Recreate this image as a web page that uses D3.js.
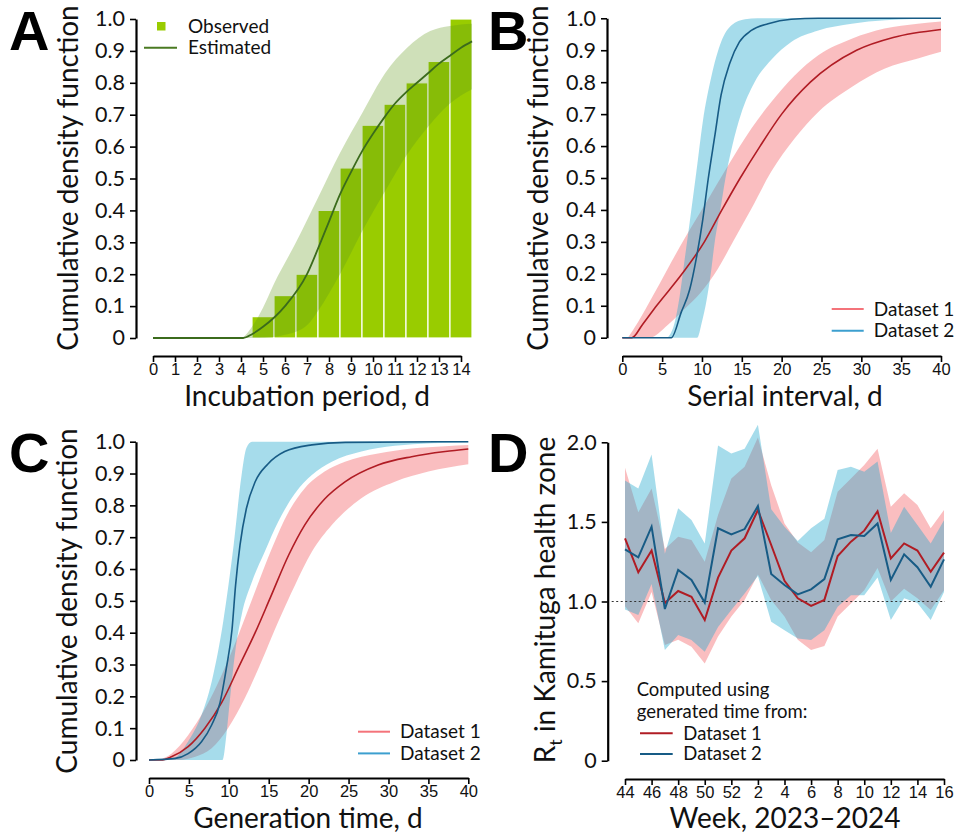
<!DOCTYPE html>
<html><head><meta charset="utf-8">
<script src="https://cdn.jsdelivr.net/npm/d3@7"></script>
<style>body{margin:0;background:#fff}svg{display:block}</style>
</head><body>
<svg id="chart" width="960" height="835"></svg>
<script>
// ---------- Panel A: incubation period ----------
const incDays = [5, 6, 7, 8, 9, 10, 11, 12, 13, 14];
const incObserved = [0.067, 0.133, 0.2, 0.4, 0.533, 0.667, 0.733, 0.8, 0.867, 1.0];
const incEstimated = [[0,0],[4.1,0],[4.5,0.012],[5,0.035],[6,0.1],[7,0.2],[7.5,0.28],[8,0.365],[8.5,0.45],[9,0.52],[9.5,0.585],[10,0.64],[10.5,0.69],[11,0.735],[11.5,0.77],[12,0.8],[12.5,0.83],[13,0.86],[13.5,0.885],[14,0.91],[14.5,0.93]];
const incUpper = [[4.1,0],[4.5,0.035],[5,0.095],[5.5,0.17],[6.5,0.3],[7.5,0.44],[8.5,0.58],[9.55,0.71],[10.55,0.83],[11.55,0.91],[12.6,0.962],[13.5,0.978],[14.5,0.985]];
const incLower = [[4.1,0],[4.8,0],[6,0.01],[7,0.04],[7.5,0.085],[8.5,0.2],[9.55,0.34],[10.55,0.46],[11.55,0.575],[12.6,0.67],[13.5,0.735],[14.5,0.78]];
const incXTicks = d3.range(0, 15);

// ---------- Panel B: serial interval ----------
const serialD1Line = [[0,0],[1.2,0],[2.5,0.04],[4.3,0.1],[7.5,0.2],[10.3,0.3],[12.5,0.4],[14.8,0.5],[17.3,0.6],[20,0.7],[23.6,0.8],[29.4,0.9],[34,0.94],[40,0.965]];
const serialD1Upper = [[0.7,0],[2,0.05],[3.6,0.12],[5.7,0.216],[7.8,0.31],[10.3,0.414],[13.3,0.54],[16.2,0.655],[18.7,0.738],[21.6,0.82],[24.6,0.884],[28.8,0.936],[32.9,0.968],[37.1,0.983],[40,0.99]];
const serialD1Lower = [[0.7,0],[3.4,0],[5.7,0.04],[7.8,0.09],[9.9,0.143],[12,0.216],[14.1,0.31],[16.2,0.404],[18.7,0.52],[21.6,0.623],[24.6,0.707],[28.8,0.785],[32.9,0.842],[37.1,0.874],[40,0.895]];
const serialD2Line = [[0,0],[6.15,0],[7.4,0.08],[8.45,0.15],[9.3,0.25],[10.1,0.37],[10.8,0.5],[11.6,0.63],[12.4,0.76],[13.5,0.86],[14.7,0.926],[16.2,0.962],[18.3,0.983],[21.2,0.997],[24.6,1],[40,1]];
const serialD2Upper = [[5.7,0],[6.6,0.05],[7.2,0.13],[7.8,0.24],[8.45,0.36],[9.3,0.52],[10.1,0.675],[11.2,0.82],[12.4,0.926],[13.7,0.978],[15.4,0.997],[17,1],[40,1]];
const serialD2Lower = [[5.7,0],[9.4,0],[10,0.05],[10.6,0.12],[11.1,0.2],[11.6,0.3],[12.3,0.4],[12.95,0.5],[13.8,0.6],[14.9,0.7],[16.6,0.8],[18.7,0.87],[21.2,0.926],[24.6,0.962],[28.8,0.983],[33,0.994],[40,0.999]];

// ---------- Panel C: generation time ----------
const genD1Line = [[0,0],[1.5,0],[2.8,0.01],[4.9,0.042],[7,0.1],[9.1,0.18],[11.2,0.29],[13.3,0.4],[15.2,0.51],[17.5,0.644],[19.5,0.738],[22,0.82],[24.55,0.874],[28.7,0.927],[32.9,0.953],[37.1,0.969],[40,0.977]];
const genD1Upper = [[1.2,0],[2.8,0.02],[4.9,0.078],[7,0.16],[9.1,0.267],[11.2,0.393],[13.3,0.53],[15.4,0.665],[17.5,0.78],[19.5,0.853],[22,0.906],[24.55,0.937],[28.7,0.963],[32.9,0.979],[37.1,0.986],[40,0.99]];
const genD1Lower = [[1.2,0],[3.7,0],[5.8,0.01],[7.85,0.037],[9.9,0.1],[12,0.194],[14.1,0.31],[16.2,0.435],[18.3,0.55],[20.4,0.654],[22.9,0.738],[26.6,0.822],[30.8,0.874],[35,0.906],[40,0.929]];
const genD2Line = [[0,0],[3.3,0.005],[4.9,0.02],[6.6,0.058],[7.85,0.11],[8.9,0.18],[9.7,0.29],[10.4,0.41],[10.85,0.55],[11.4,0.675],[12.2,0.79],[13.3,0.874],[14.9,0.93],[17,0.969],[20.4,0.99],[24.6,0.998],[40,1]];
const genD2Upper = [[2.5,0],[3.7,0.016],[4.9,0.058],[6.4,0.13],[7.85,0.246],[9.3,0.435],[10.6,0.675],[11.6,0.895],[12.2,0.98],[12.9,1],[40,1]];
const genD2Lower = [[2.5,0],[9.2,0],[9.7,0.08],[10.1,0.18],[10.8,0.34],[11.6,0.455],[12.9,0.56],[14.5,0.654],[16.2,0.749],[18.3,0.838],[20.4,0.895],[22.9,0.937],[26.6,0.969],[30.8,0.987],[40,0.998]];
const dayTicks40 = [0, 5, 10, 15, 20, 25, 30, 35, 40];
const cdfTicks = [0, 0.1, 0.2, 0.3, 0.4, 0.5, 0.6, 0.7, 0.8, 0.9, 1.0];

// ---------- Panel D: Rt by week ----------
const weeks = [44,45,46,47,48,49,50,51,52,1,2,3,4,5,6,7,8,9,10,11,12,13,14,15,16];
const rt1 = [1.397,1.183,1.32,0.99,1.066,1.03,0.884,1.15,1.32,1.397,1.575,1.355,1.13,1.02,0.972,1.01,1.286,1.376,1.445,1.567,1.27,1.365,1.32,1.187,1.307];
const rt1Upper = [1.84,1.56,1.71,1.33,1.407,1.386,1.25,1.543,1.773,1.847,2.03,1.73,1.49,1.37,1.31,1.386,1.69,1.773,1.857,1.96,1.595,1.68,1.606,1.46,1.575];
const rt1Lower = [0.97,0.863,1.06,0.727,0.76,0.716,0.61,0.78,0.905,1.01,1.17,1.01,0.905,0.76,0.695,0.72,0.905,0.988,1.07,1.21,1.0,1.08,1.02,0.946,1.07];
const rt2 = [1.328,1.277,1.47,0.953,1.198,1.135,0.993,1.46,1.422,1.455,1.6,1.173,1.104,1.045,1.076,1.141,1.39,1.418,1.411,1.49,1.135,1.296,1.215,1.093,1.265];
const rt2Upper = [1.76,1.71,1.924,1.3,1.585,1.512,1.365,1.98,1.93,1.96,2.11,1.58,1.47,1.38,1.46,1.52,1.826,1.847,1.815,1.88,1.43,1.595,1.48,1.365,1.51];
const rt2Lower = [0.95,0.915,1.11,0.695,0.79,0.758,0.685,0.84,0.946,1.05,1.16,0.873,0.82,0.768,0.758,0.82,0.967,1.04,1.04,1.15,0.884,1.02,0.99,0.884,1.06];
const rtTicks = [0, 0.5, 1.0, 1.5, 2.0];
const weekTickIdx = [0,2,4,6,8,10,12,14,16,18,20,22,24];

// ---------- styles ----------
const FONT = "Lato, 'Open Sans', sans-serif";
const TFONT = "'Liberation Sans', Arial, sans-serif";
const RED_BAND = "rgb(242,92,97)", BLUE_BAND = "rgb(32,167,205)", BAND_OP = 0.4;
const RED_LINE = "#b01c24", BLUE_LINE = "#175b85";
const RED_LEG = "#f4737a", BLUE_LEG = "#3c9fcf";

const svg = d3.select("#chart");

function cdfFmt(d) { return d === 0 ? "0" : d3.format(".1f")(d); }

function styleAxis(g) {
  g.select(".domain").attr("stroke", "#000").attr("stroke-width", 2.2);
  g.selectAll(".tick line").attr("stroke", "#000").attr("stroke-width", 1.6);
}

function yAxis(x0, y, ticks, fmt) {
  const g = svg.append("g").attr("transform", `translate(${x0},0)`)
    .call(d3.axisLeft(y).tickValues(ticks).tickFormat(fmt).tickSize(6).tickPadding(5).tickSizeOuter(0));
  styleAxis(g);
  g.selectAll(".tick text").attr("font-family", FONT).attr("font-size", 21.5).attr("fill", "#111");
  return g;
}
function xAxis(y0, x, ticks, fmt, size) {
  const g = svg.append("g").attr("transform", `translate(0,${y0})`)
    .call(d3.axisBottom(x).tickValues(ticks).tickFormat(fmt).tickSize(6).tickPadding(1).tickSizeOuter(0));
  styleAxis(g);
  g.selectAll(".tick text").attr("font-family", TFONT).attr("font-size", size || 16.5).attr("fill", "#111");
  return g;
}
function title(x, y, txt, rotate) {
  const t = svg.append("text").attr("font-family", FONT).attr("font-size", 28).attr("fill", "#111")
    .attr("text-anchor", "middle");
  if (rotate) t.attr("transform", `translate(${x},${y}) rotate(-90)`);
  else t.attr("x", x).attr("y", y);
  t.text(txt);
  return t;
}
function letter(x, y, txt) {
  svg.append("text").attr("x", x).attr("y", y).attr("font-family", TFONT).attr("font-weight", "bold")
    .attr("font-size", 56).attr("fill", "#000").text(txt);
}
function bandPath(x, y, upper, lower, curve) {
  const lg = d3.line().x(d => x(d[0])).y(d => y(d[1])).curve(curve);
  const up = lg(upper);
  const lo = lg(lower.slice().reverse());
  return up + "L" + lo.slice(1) + "Z";
}
function legendRows(x0, x1, xt, rows, size) {
  rows.forEach(r => {
    svg.append("line").attr("x1", x0).attr("x2", x1).attr("y1", r.y).attr("y2", r.y)
      .attr("stroke", r.color).attr("stroke-width", 2);
    svg.append("text").attr("x", xt).attr("y", r.y).attr("dy", "0.35em")
      .attr("font-family", FONT).attr("font-size", size).attr("fill", "#111").text(r.label);
  });
}

// ================= Panel A =================
{
  const x = d3.scaleLinear().domain([0, 14]).range([153, 461]);
  const y = d3.scaleLinear().domain([0, 1]).range([338, 19]);
  const bw = x(1) - x(0);
  svg.append("g").selectAll("rect").data(incDays).join("rect")
    .attr("x", (d) => x(d) - bw / 2).attr("width", bw)
    .attr("y", (d, i) => y(incObserved[i])).attr("height", (d, i) => y(0) - y(incObserved[i]))
    .attr("fill", "#99cc00").attr("stroke", "#fff").attr("stroke-width", 1.2);
  svg.append("path").attr("d", bandPath(x, y, incUpper, incLower, d3.curveMonotoneX))
    .attr("fill", "rgb(97,153,22)").attr("fill-opacity", 0.3);
  svg.append("path").datum(incEstimated)
    .attr("d", d3.line().x(d => x(d[0])).y(d => y(d[1])).curve(d3.curveMonotoneX))
    .attr("fill", "none").attr("stroke", "#3b6b1c").attr("stroke-width", 1.8);
  yAxis(136, y, cdfTicks, cdfFmt);
  xAxis(356, x, incXTicks, d3.format("d"));
  title(307, 406, "Incubation period, d");
  title(78, 178, "Cumulative density function", true);
  letter(9, 50, "A");
  // legend
  svg.append("rect").attr("x", 157).attr("y", 22).attr("width", 8.5).attr("height", 8.5).attr("fill", "#99cc00");
  svg.append("text").attr("x", 188).attr("y", 26).attr("dy", "0.35em").attr("font-family", FONT)
    .attr("font-size", 19).attr("fill", "#111").text("Observed");
  svg.append("line").attr("x1", 144).attr("x2", 177).attr("y1", 47.7).attr("y2", 47.7)
    .attr("stroke", "#4a7a22").attr("stroke-width", 2);
  svg.append("text").attr("x", 188).attr("y", 47.7).attr("dy", "0.35em").attr("font-family", FONT)
    .attr("font-size", 19).attr("fill", "#111").text("Estimated");
}

// ================= Panels B and C =================
function cdfPanel(opts) {
  const x = d3.scaleLinear().domain([0, 40]).range(opts.xr);
  const y = d3.scaleLinear().domain([0, 1]).range(opts.yr);
  svg.append("path").attr("d", bandPath(x, y, opts.u1, opts.l1, d3.curveMonotoneX))
    .attr("fill", RED_BAND).attr("fill-opacity", BAND_OP);
  svg.append("path").attr("d", bandPath(x, y, opts.u2, opts.l2, d3.curveMonotoneX))
    .attr("fill", BLUE_BAND).attr("fill-opacity", BAND_OP);
  const lg = d3.line().x(d => x(d[0])).y(d => y(d[1])).curve(d3.curveMonotoneX);
  svg.append("path").datum(opts.line1).attr("d", lg).attr("fill", "none")
    .attr("stroke", RED_LINE).attr("stroke-width", 1.6);
  svg.append("path").datum(opts.line2).attr("d", lg).attr("fill", "none")
    .attr("stroke", BLUE_LINE).attr("stroke-width", 1.6);
  yAxis(opts.yx, y, cdfTicks, cdfFmt);
  xAxis(opts.xy, x, dayTicks40, d3.format("d"), 16.5);
  title(opts.tx[0], opts.tx[1], opts.xtitle);
  title(opts.ty[0], opts.ty[1], "Cumulative density function", true);
  letter(opts.lt[0], opts.lt[1], opts.letter);
  legendRows(opts.leg[0], opts.leg[0] + 32, opts.leg[0] + 42, [
    { y: opts.leg[1], color: RED_LEG, label: "Dataset 1" },
    { y: opts.leg[1] + 21.7, color: BLUE_LEG, label: "Dataset 2" }
  ], 19);
}
cdfPanel({ xr: [622.3, 941], yr: [337.7, 18.3], yx: 607, xy: 356,
  u1: serialD1Upper, l1: serialD1Lower, u2: serialD2Upper, l2: serialD2Lower,
  line1: serialD1Line, line2: serialD2Line,
  tx: [785, 406], xtitle: "Serial interval, d", ty: [548, 178], lt: [488, 50], letter: "B",
  leg: [831.7, 309] });
cdfPanel({ xr: [149, 468.3], yr: [760, 441.7], yx: 136, xy: 778,
  u1: genD1Upper, l1: genD1Lower, u2: genD2Upper, l2: genD2Lower,
  line1: genD1Line, line2: genD2Line,
  tx: [308, 828], xtitle: "Generation time, d", ty: [77, 601], lt: [9, 472], letter: "C",
  leg: [358, 731.7] });

// ================= Panel D =================
{
  const x = d3.scaleLinear().domain([0, weeks.length - 1]).range([625, 944]);
  const y = d3.scaleLinear().domain([0, 2]).range([760.7, 442.3]);
  const idx = d3.range(weeks.length);
  const area = (up, lo) => d3.area().x(i => x(i)).y0(i => y(lo[i])).y1(i => y(up[i]))(idx);
  svg.append("path").attr("d", area(rt1Upper, rt1Lower)).attr("fill", RED_BAND).attr("fill-opacity", BAND_OP);
  svg.append("path").attr("d", area(rt2Upper, rt2Lower)).attr("fill", BLUE_BAND).attr("fill-opacity", BAND_OP);
  svg.append("line").attr("x1", 611.7).attr("x2", 945).attr("y1", y(1)).attr("y2", y(1))
    .attr("stroke", "#333").attr("stroke-width", 1.2).attr("stroke-dasharray", "2,2.5");
  const line = (arr) => d3.line().x(i => x(i)).y(i => y(arr[i]))(idx);
  svg.append("path").attr("d", line(rt1)).attr("fill", "none").attr("stroke", RED_LINE).attr("stroke-width", 2);
  svg.append("path").attr("d", line(rt2)).attr("fill", "none").attr("stroke", BLUE_LINE).attr("stroke-width", 2);
  yAxis(607.7, y, rtTicks, d => d === 0 ? "0" : d3.format(".1f")(d));
  xAxis(779, x, weekTickIdx, i => weeks[i], 16.5);
  title(785, 828, "Week, 2023\u20132024");
  const t = svg.append("text").attr("font-family", FONT).attr("font-size", 28).attr("fill", "#111")
    .attr("text-anchor", "middle").attr("transform", "translate(555,600) rotate(-90)");
  t.append("tspan").text("R");
  t.append("tspan").attr("font-size", 18).attr("dy", 7).text("t");
  t.append("tspan").attr("dy", -7).text(" in Kamituga health zone");
  letter(488, 472, "D");
  svg.append("text").attr("x", 636.7).attr("y", 689.3).attr("dy", "0.35em").attr("font-family", FONT)
    .attr("font-size", 18.5).attr("fill", "#111").text("Computed using");
  svg.append("text").attr("x", 636.7).attr("y", 711.7).attr("dy", "0.35em").attr("font-family", FONT)
    .attr("font-size", 18.5).attr("fill", "#111").text("generated time from:");
  legendRows(640, 672.7, 683.3, [
    { y: 733.3, color: RED_LINE, label: "Dataset 1" },
    { y: 754, color: BLUE_LINE, label: "Dataset 2" }
  ], 18.5);
}
</script>
</body></html>
